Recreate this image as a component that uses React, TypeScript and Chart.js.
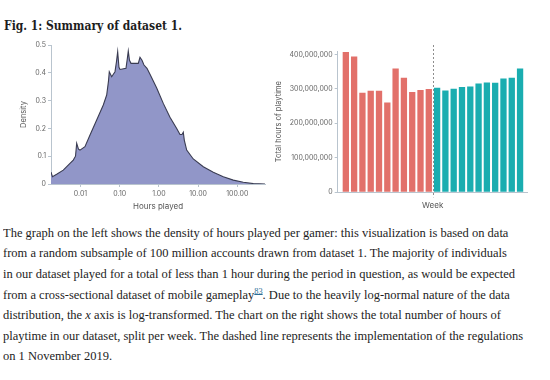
import React, { useEffect, useLayoutEffect, useRef } from "react";
import { Chart, registerables } from "chart.js";

Chart.register(...registerables);

// ---- Left panel: density of hours played (log x axis) ----
const hoursPlayed = [
  0.00177, 0.00193, 0.00247, 0.00364, 0.0054, 0.00655, 0.00746, 0.008, 0.00889, 0.0097,
  0.013, 0.0175, 0.0259, 0.0382, 0.0466, 0.0518, 0.0543, 0.0625, 0.0759, 0.0829,
  0.0889, 0.0959, 0.1018, 0.1448, 0.1563, 0.1657, 0.1778, 0.1942, 0.2981, 0.3295,
  0.3706, 0.4168, 0.497, 0.593, 0.879, 1.295, 1.919, 2.846, 3.454, 3.885,
  4.193, 4.446, 5.12, 7.54, 13.57, 24.4, 43.95, 79.1, 142.3, 256, 509,
];
const densityValues = [
  0.043, 0.026, 0.035, 0.05, 0.074, 0.086, 0.1, 0.146, 0.125, 0.122,
  0.134, 0.176, 0.23, 0.284, 0.32, 0.37, 0.404, 0.386, 0.404, 0.44,
  0.476, 0.42, 0.412, 0.416, 0.45, 0.478, 0.445, 0.434, 0.434, 0.456,
  0.445, 0.428, 0.416, 0.395, 0.345, 0.29, 0.24, 0.2, 0.178, 0.178,
  0.186, 0.158, 0.122, 0.09, 0.062, 0.042, 0.026, 0.014, 0.006, 0.0015, 0,
];
const hoursTicks = [0.01, 0.1, 1, 10, 100];
const densityTicks = [0, 0.1, 0.2, 0.3, 0.4, 0.5];
const hoursRange = [0.00177, 509];

// ---- Right panel: total weekly playtime ----
const weekIndex = [0, 1, 2, 3, 4, 5, 6, 7, 8, 9, 10, 11, 12, 13, 14, 15, 16, 17, 18, 19, 20, 21];
const weeklyPlaytime = [
  406.8e6, 394.2e6, 288.9e6, 294.7e6, 294.7e6, 260.9e6, 359.4e6, 332.4e6, 290.8e6, 296.6e6, 299.5e6,
  303.4e6, 295.7e6, 300.5e6, 305.3e6, 307.2e6, 316.0e6, 318.8e6, 317.9e6, 330.4e6, 332.4e6, 359.4e6,
];
const preRegulationWeeks = 11;
const regulationBoundary = 10.5;
const playtimeTicks = [0, 100e6, 200e6, 300e6, 400e6];
const playtimeMax = 410e6;
const weekRange = [-0.98, 21.92];

const preColor = "#E2706A";
const postColor = "#1AADB0";
const axisColor = "#B9C4CE";
const tickColor = "#666666";

const paragraphLines: React.ReactNode[] = [
  "The graph on the left shows the density of hours played per gamer: this visualization is based on data",
  "from a random subsample of 100 million accounts drawn from dataset 1. The majority of individuals",
  "in our dataset played for a total of less than 1 hour during the period in question, as would be expected",
  <>
    from a cross-sectional dataset of mobile gameplay
    <sup style={{ fontSize: "9px", color: "#2a6f97", textDecoration: "underline", lineHeight: 0 }}>83</sup>. Due to
    the heavily log-normal nature of the data
  </>,
  <>
    distribution, the <i>x</i> axis is log-transformed. The chart on the right shows the total number of hours of
  </>,
  "playtime in our dataset, split per week. The dashed line represents the implementation of the regulations",
  "on 1 November 2019.",
];

const regulationLine = {
  id: "regulationLine",
  afterDatasetsDraw(chart: any) {
    const xs = chart.scales.x;
    const x = Math.round(xs.getPixelForValue(regulationBoundary)) + 0.5;
    const { ctx, chartArea } = chart;
    ctx.save();
    ctx.strokeStyle = "#8E8E8E";
    ctx.lineWidth = 1;
    ctx.setLineDash([2, 2]);
    ctx.beginPath();
    ctx.moveTo(x, chartArea.top - 6);
    ctx.lineTo(x, chartArea.bottom + 5);
    ctx.stroke();
    ctx.restore();
  },
};

function DensityChart() {
  const ref = useRef<HTMLCanvasElement>(null);
  useEffect(() => {
    if (!ref.current) return;
    const chart = new Chart(ref.current, {
      type: "line",
      data: {
        datasets: [
          {
            data: hoursPlayed.map((h, i) => ({ x: h, y: densityValues[i] })),
            fill: "origin",
            backgroundColor: "#9196C8",
            borderColor: "#3A3C52",
            borderWidth: 1.1,
            pointRadius: 0,
            tension: 0,
          },
        ],
      },
      options: {
        animation: false,
        responsive: false,
        devicePixelRatio: 1,
        layout: { padding: { left: 0, right: 5, top: 10, bottom: 0 } },
        plugins: { legend: { display: false }, tooltip: { enabled: false } },
        scales: {
          x: {
            type: "logarithmic",
            min: hoursRange[0],
            max: hoursRange[1],
            afterBuildTicks: (s: any) => {
              s.min = hoursRange[0];
              s.max = hoursRange[1];
              s.ticks = hoursTicks.map((v) => ({ value: v }));
            },
            afterFit: (s: any) => {
              s.height = 27;
            },
            ticks: {
              autoSkip: false,
              maxRotation: 0,
              padding: 3,
              color: tickColor,
              font: { size: 7 },
              callback: (v: any) => Number(v).toFixed(2),
            },
            grid: { drawOnChartArea: false, drawTicks: true, tickLength: 3, color: axisColor },
            border: { display: true, color: axisColor },
            title: {
              display: true,
              text: "Hours played",
              color: "#555",
              font: { size: 8 },
              padding: { top: 0, bottom: 0 },
            },
          },
          y: {
            min: 0,
            max: 0.5,
            afterBuildTicks: (s: any) => {
              s.min = 0;
              s.max = 0.5;
              s.ticks = densityTicks.map((v) => ({ value: v }));
            },
            afterFit: (s: any) => {
              s.width = 37;
            },
            ticks: {
              padding: 2,
              color: tickColor,
              font: { size: 7 },
              callback: (v: any) => (Number(v) === 0 ? "0" : Number(v).toFixed(1)),
            },
            grid: { drawOnChartArea: false, drawTicks: true, tickLength: 3, color: axisColor },
            border: { display: true, color: axisColor },
            title: {
              display: true,
              text: "Density",
              color: "#555",
              font: { size: 7.5 },
              padding: { top: 5, bottom: 0 },
            },
          },
        },
      },
    } as any);
    return () => chart.destroy();
  }, []);
  return (
    <canvas
      ref={ref}
      width={256}
      height={176}
      style={{ position: "absolute", left: 14, top: 35, width: 256, height: 176 }}
    />
  );
}

function PlaytimeChart() {
  const ref = useRef<HTMLCanvasElement>(null);
  useEffect(() => {
    if (!ref.current) return;
    const chart = new Chart(ref.current, {
      type: "bar",
      data: {
        datasets: [
          {
            data: weekIndex.map((w, i) => ({ x: w, y: weeklyPlaytime[i] })),
            backgroundColor: weekIndex.map((w) => (w < preRegulationWeeks ? preColor : postColor)),
            borderWidth: 0,
            barPercentage: 0.76,
            categoryPercentage: 1,
          },
        ],
      },
      options: {
        animation: false,
        responsive: false,
        devicePixelRatio: 1,
        layout: { padding: { left: 0, right: 22.3, top: 16, bottom: 0 } },
        plugins: { legend: { display: false }, tooltip: { enabled: false } },
        scales: {
          x: {
            type: "linear",
            bounds: "data",
            min: weekRange[0],
            max: weekRange[1],
            afterBuildTicks: (s: any) => {
              s.min = weekRange[0];
              s.max = weekRange[1];
              s.ticks = [];
            },
            afterFit: (s: any) => {
              s.height = 22.7;
            },
            ticks: { display: false },
            grid: { display: false },
            border: { display: true, color: axisColor },
            title: {
              display: true,
              text: "Week",
              color: "#555",
              font: { size: 8 },
              padding: { top: 0, bottom: 5 },
            },
          },
          y: {
            min: 0,
            max: playtimeMax,
            afterBuildTicks: (s: any) => {
              s.min = 0;
              s.max = playtimeMax;
              s.ticks = playtimeTicks.map((v) => ({ value: v }));
            },
            afterFit: (s: any) => {
              s.width = 67.7;
            },
            ticks: {
              padding: 2,
              color: tickColor,
              font: { size: 7 },
              callback: (v: any) => Number(v).toLocaleString("en-US"),
            },
            grid: { drawOnChartArea: false, drawTicks: true, tickLength: 3, color: axisColor },
            border: { display: true, color: axisColor },
            title: {
              display: true,
              text: "Total hours of playtime",
              color: "#555",
              font: { size: 7.5 },
              padding: { top: 4.5, bottom: 0 },
            },
          },
        },
      },
      plugins: [regulationLine],
    } as any);
    return () => chart.destroy();
  }, []);
  return (
    <canvas
      ref={ref}
      width={280}
      height={180}
      style={{ position: "absolute", left: 270, top: 35, width: 280, height: 180 }}
    />
  );
}

export default function App() {
  const titleRef = useRef<HTMLSpanElement>(null);
  const paraRef = useRef<HTMLDivElement>(null);
  const longLineRef = useRef<HTMLSpanElement>(null);

  useLayoutEffect(() => {
    if (titleRef.current) {
      const w = titleRef.current.getBoundingClientRect().width;
      if (w > 0) titleRef.current.style.transform = `scaleX(${178 / w})`;
    }
    if (paraRef.current && longLineRef.current) {
      const w = longLineRef.current.getBoundingClientRect().width;
      if (w > 0) paraRef.current.style.transform = `scaleX(${512 / w})`;
    }
  }, []);

  Chart.defaults.font.family = "Inter, 'Noto Sans', sans-serif";

  return (
    <div
      style={{
        position: "absolute",
        left: 0,
        top: 0,
        width: 550,
        height: 380,
        background: "#ffffff",
        overflow: "hidden",
        fontFamily: "'Liberation Serif', 'DejaVu Serif', serif",
        color: "#1d1d1d",
      }}
    >
      <div style={{ position: "absolute", left: 4, top: 16, whiteSpace: "nowrap" }}>
        <span
          ref={titleRef}
          style={{
            display: "inline-block",
            fontFamily: "'DejaVu Serif', serif",
            fontSize: 13,
            lineHeight: "16px",
            fontWeight: 700,
            transformOrigin: "left center",
          }}
        >
          Fig. 1: Summary of dataset 1.
        </span>
      </div>
      <DensityChart />
      <PlaytimeChart />
      <div
        ref={paraRef}
        style={{
          position: "absolute",
          left: 3,
          top: 222.8,
          fontSize: 13.5,
          lineHeight: "20.6px",
          whiteSpace: "nowrap",
          transformOrigin: "left top",
        }}
      >
        {paragraphLines.map((line, i) => (
          <div key={i}>
            {i === 2 ? <span ref={longLineRef}>{line}</span> : line}
          </div>
        ))}
      </div>
    </div>
  );
}
